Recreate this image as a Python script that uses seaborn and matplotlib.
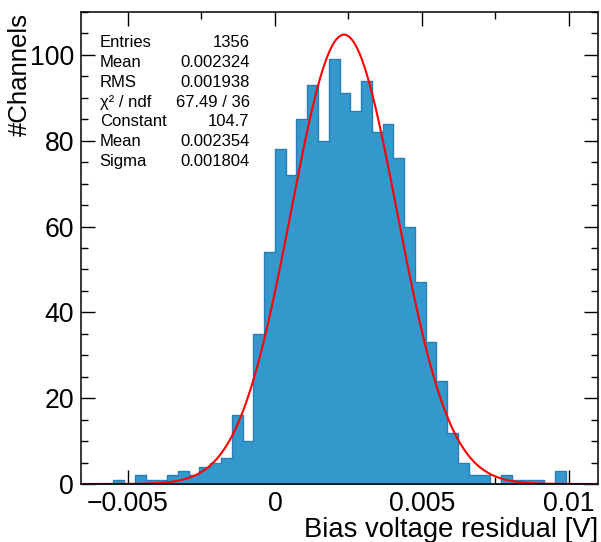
import numpy as np
import pandas as pd
import matplotlib
matplotlib.use("Agg")
import matplotlib.pyplot as plt
from matplotlib.ticker import MultipleLocator, FuncFormatter
import seaborn as sns

# histogram: 48 bins from -0.0066 to 0.011 V
x_lo, x_hi, n_bins = -0.0066, 0.011, 48
counts = [0, 0, 0, 1, 0, 2, 1, 1, 2, 3, 2, 4, 5, 6, 16, 10,
          35, 54, 78, 72, 85, 93, 80, 99, 91, 87, 94, 82, 84, 76, 60, 47,
          33, 24, 12, 5, 2, 2, 0, 2, 1, 1, 1, 0, 3, 0, 0, 0]

# fit parameters (gaus)
fit_const, fit_mean, fit_sigma = 104.7, 0.002354, 0.001804

stat_names = ["Entries", "Mean", "RMS", "\u03c7\u00b2 / ndf", "Constant", "Mean", "Sigma"]
stat_values = ["1356", "0.002324", "0.001938", "67.49 / 36", "104.7", "0.002354", "0.001804"]

sns.set_style("ticks")
plt.rcParams["font.family"] = ["Liberation Sans", "DejaVu Sans"]
plt.rcParams.update({"text.color": "black", "axes.labelcolor": "black",
                     "xtick.color": "black", "ytick.color": "black"})

edges = np.linspace(x_lo, x_hi, n_bins + 1)
centers = 0.5 * (edges[:-1] + edges[1:])
df = pd.DataFrame({"x": centers, "w": counts})

fig = plt.figure(figsize=(6.01, 5.42), dpi=100)
ax = fig.add_axes([0.1348, 0.107, 0.8602, 0.871])

sns.histplot(data=df, x="x", weights="w", bins=n_bins, binrange=(x_lo, x_hi),
             element="step", fill=True, alpha=1, facecolor="#3399cc",
             edgecolor="#2a7db5", linewidth=1.0, ax=ax)

xf = np.linspace(x_lo, x_hi, 600)
fit_df = pd.DataFrame({"x": xf,
                       "y": fit_const * np.exp(-0.5 * ((xf - fit_mean) / fit_sigma) ** 2)})
sns.lineplot(data=fit_df, x="x", y="y", color="red", linewidth=1.5, ax=ax)

ax.set_xlim(x_lo, x_hi)
ax.set_ylim(0, 110)

ax.xaxis.set_major_locator(MultipleLocator(0.005))
ax.xaxis.set_minor_locator(MultipleLocator(0.0025))
ax.yaxis.set_major_locator(MultipleLocator(20))
ax.yaxis.set_minor_locator(MultipleLocator(5))
ax.xaxis.set_major_formatter(FuncFormatter(lambda v, p: ("%g" % round(v, 6)).replace("-", "\u2212")))
ax.yaxis.set_major_formatter(FuncFormatter(lambda v, p: "%d" % v))

ax.tick_params(which="both", direction="in", top=True, right=True,
               labelsize=19.2, width=1.0, color="black", labelcolor="black")
ax.tick_params(which="major", length=10, pad=5)
ax.tick_params(which="minor", length=5)
for s in ax.spines.values():
    s.set_linewidth(1.1)
    s.set_color("black")

ax.set_xlabel("Bias voltage residual [V]", fontsize=19.7, ha="right", x=1.0,
              labelpad=0, color="black")
ax.set_ylabel("#Channels", fontsize=18.5, ha="right", color="black")
ax.yaxis.set_label_coords(-0.095, 0.997)

for i, (nm, val) in enumerate(zip(stat_names, stat_values)):
    yy = 0.935 - i * 0.042
    ax.text(0.036, yy, nm, transform=ax.transAxes, fontsize=12, va="center", ha="left")
    ax.text(0.326, yy, val, transform=ax.transAxes, fontsize=12, va="center", ha="right")

fig.savefig("out.png", dpi=100)
